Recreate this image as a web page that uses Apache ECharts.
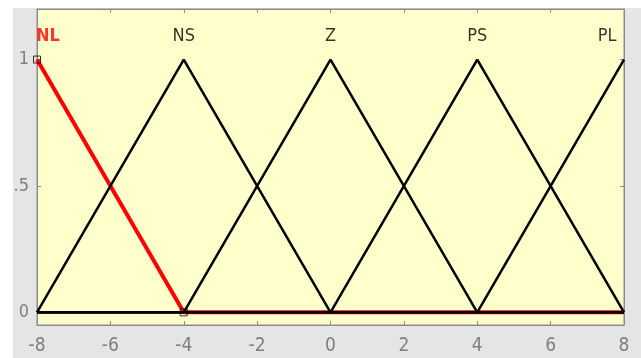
<!DOCTYPE html>
<html>
<head>
<meta charset="utf-8">
<script src="https://cdn.jsdelivr.net/npm/echarts@6/dist/echarts.min.js"></script>
<style>
  html, body { margin: 0; padding: 0; background: #ffffff; width: 641px; height: 358px; overflow: hidden; }
  #frame { position: absolute; left: 13px; top: 8px; width: 628px; height: 350px; background: #e5e5e5; overflow: hidden; }
  #chart { width: 628px; height: 350px; }
</style>
</head>
<body>
<div id="frame"><div id="chart"></div></div>
<script>
// Membership functions of the input variable (triangular, vertices listed as [x, degree])
const mfNL = [[-8, 1], [-4, 0], [8, 0]];
const mfNS = [[-8, 0], [-4, 1], [0, 0], [8, 0]];
const mfZ  = [[-8, 0], [-4, 0], [0, 1], [4, 0], [8, 0]];
const mfPS = [[-8, 0], [0, 0], [4, 1], [8, 0]];
const mfPL = [[-8, 0], [4, 0], [8, 1]];

// Names written above each function, anchored in data units
const mfNames  = ['NL', 'NS', 'Z', 'PS', 'PL'];
const nameX    = [-7.7, -4, 0, 4, 7.54];
const nameY    = [1.09, 1.09, 1.09, 1.09, 1.09];

// Vertices of the selected function (marked with small squares)
const selectedVertices = [[-8, 1], [-4, 0]];

// Axis ticks
const xTicks = [-8, -6, -4, -2, 0, 2, 4, 6, 8];
const yTicks = [0, 0.5, 1];

const axisGray = '#8c8c8c';
const labelGray = '#7f7f7f';
const font = '"Liberation Sans Narrow", "DejaVu Sans Condensed", "Liberation Sans", sans-serif';

const chart = echarts.init(document.getElementById('chart'));

const blackLine = (data) => ({
  type: 'line', data, symbol: 'none', z: 3,
  lineStyle: { color: '#000000', width: 2.5 }
});

chart.setOption({
  animation: false,
  grid: {
    left: 24, top: 1, right: 17, bottom: 33,
    containLabel: false, outerBoundsMode: 'none',
    show: true, backgroundColor: '#ffffcc', borderColor: axisGray, borderWidth: 1
  },
  xAxis: [{
    type: 'value', min: -8, max: 8, interval: 2,
    axisLine: { show: true, onZero: false, lineStyle: { color: axisGray } },
    axisTick: { show: true, inside: true, length: 4, lineStyle: { color: axisGray } },
    axisLabel: { color: labelGray, fontSize: 19, fontFamily: font, margin: 12,
      customValues: xTicks, formatter: v => String(v) },
    splitLine: { show: false }
  }, {
    type: 'value', position: 'top', min: -8, max: 8, interval: 2,
    axisLine: { show: true, onZero: false, lineStyle: { color: axisGray } },
    axisTick: { show: true, inside: true, length: 4, lineStyle: { color: axisGray } },
    axisLabel: { show: false },
    splitLine: { show: false }
  }],
  yAxis: [{
    type: 'value', min: -0.05, max: 1.2,
    axisLine: { show: true, onZero: false, lineStyle: { color: axisGray } },
    axisTick: { show: true, inside: true, length: 4, customValues: yTicks, lineStyle: { color: axisGray } },
    axisLabel: { color: labelGray, fontSize: 18, fontFamily: font, margin: 8,
      customValues: yTicks, formatter: v => String(v) },
    splitLine: { show: false }
  }, {
    type: 'value', position: 'right', min: -0.05, max: 1.2,
    axisLine: { show: true, onZero: false, lineStyle: { color: axisGray } },
    axisTick: { show: true, inside: true, length: 4, customValues: yTicks, lineStyle: { color: axisGray } },
    axisLabel: { show: false },
    splitLine: { show: false }
  }],
  series: [
    {
      type: 'line', data: mfNL, symbol: 'none', z: 2,
      lineStyle: { color: '#ff0000', width: 4 }
    },
    blackLine(mfNS),
    blackLine(mfZ),
    blackLine(mfPS),
    blackLine(mfPL),
    {
      type: 'scatter', z: 5, symbol: 'rect', symbolSize: 7,
      data: selectedVertices,
      itemStyle: { color: 'rgba(0,0,0,0)', borderColor: '#000000', borderWidth: 1 }
    },
    {
      type: 'scatter', z: 6, symbolSize: 0,
      // the selected function's name is shown in red and bold
      data: mfNames.map((n, i) => ({
        value: [nameX[i], nameY[i]], name: n,
        label: i === 0 ? { color: '#ff0000', fontWeight: 'bold' } : undefined
      })),
      label: {
        show: true, position: 'inside', formatter: p => p.name,
        fontFamily: font, fontSize: 18, color: '#000000'
      },
      labelLayout: { hideOverlap: false }
    }
  ]
});
</script>
</body>
</html>
